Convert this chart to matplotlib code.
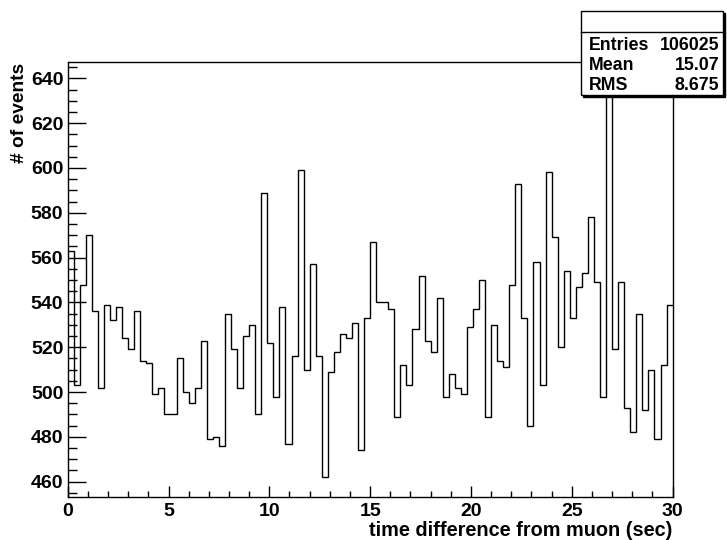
import matplotlib
matplotlib.use('Agg')
import matplotlib.pyplot as plt
from matplotlib.patches import Rectangle
import numpy as np

plt.rcParams['font.family'] = 'sans-serif'
plt.rcParams['font.sans-serif'] = ['Liberation Sans']
plt.rcParams['font.weight'] = 'bold'

# bin contents, 100 bins from 0 to 30 sec
counts = [563, 503, 548, 570, 536, 502, 539, 532, 538, 524,
          519, 536, 514, 513, 499, 502, 490, 490, 515, 500,
          495, 502, 523, 479, 480, 476, 535, 519, 502, 525,
          530, 490, 589, 522, 498, 538, 477, 516, 599, 510,
          557, 516, 462, 509, 518, 526, 524, 531, 474, 533,
          567, 540, 540, 537, 489, 512, 503, 528, 552, 523,
          518, 542, 498, 508, 502, 499, 529, 537, 550, 489,
          530, 514, 511, 548, 593, 533, 485, 558, 503, 598,
          569, 520, 554, 533, 547, 553, 578, 549, 498, 638,
          519, 549, 493, 482, 535, 492, 510, 479, 512, 539]
x_min = 0
x_max = 30
x_ticks = [0, 5, 10, 15, 20, 25, 30]
y_ticks = [460, 480, 500, 520, 540, 560, 580, 600, 620, 640]
stat_names = ['Entries', 'Mean', 'RMS']
stat_values = ['106025', '15.07', '8.675']

W, H = 727, 540
fig = plt.figure(figsize=(W/100, H/100), dpi=100)
ax = fig.add_axes([67.7/W, 1-496.7/H, (672.6-67.7)/W, (496.7-62)/H])

edges = np.linspace(x_min, x_max, len(counts)+1)
ax.stairs(counts, edges, color='black', linewidth=1.0, baseline=None)

ax.set_xlim(x_min, x_max)
ax.set_ylim(453.3, 647.3)
ax.set_xticks(x_ticks)
ax.set_xticks(np.arange(0, 31, 1), minor=True)
ax.set_yticks(y_ticks)
ax.set_yticks(np.arange(455, 647, 5), minor=True)
ax.tick_params(which='both', direction='in', top=False, right=False, labelsize=14, width=1)
ax.tick_params(axis='x', which='major', length=8, pad=4.5)
ax.tick_params(axis='x', which='minor', length=4)
ax.tick_params(axis='y', which='major', length=13, pad=3.2)
ax.tick_params(axis='y', which='minor', length=6.5)
for s in ax.spines.values():
    s.set_linewidth(1)

fig.text(672.6/W, 1-530/H, 'time difference from muon (sec)', ha='right', va='center', fontsize=14.3)
fig.text(19.5/W, 1-63/H, '# of events', rotation=90, ha='center', va='top', fontsize=13.8)

# stats box with shadow
bx0, bx1, by0, by1 = 581, 723, 11, 95
fig.add_artist(Rectangle(((bx0+2)/W, 1-(by1+2)/H), (bx1-bx0)/W, (by1-by0)/H,
                         transform=fig.transFigure, facecolor='black', edgecolor='black', lw=1))
fig.add_artist(Rectangle((bx0/W, 1-by1/H), (bx1-bx0)/W, (by1-by0)/H,
                         transform=fig.transFigure, facecolor='white', edgecolor='black', lw=1))
fig.add_artist(plt.Line2D([bx0/W, bx1/W], [1-32.3/H, 1-32.3/H], transform=fig.transFigure, color='black', lw=1))
row_y = [46, 66, 86]
for name, val, ry in zip(stat_names, stat_values, row_y):
    fig.text(589/W, 1-ry/H, name, ha='left', va='center', fontsize=12.8)
    fig.text(719/W, 1-ry/H, val, ha='right', va='center', fontsize=12.8)

plt.savefig('out.png', dpi=100)
